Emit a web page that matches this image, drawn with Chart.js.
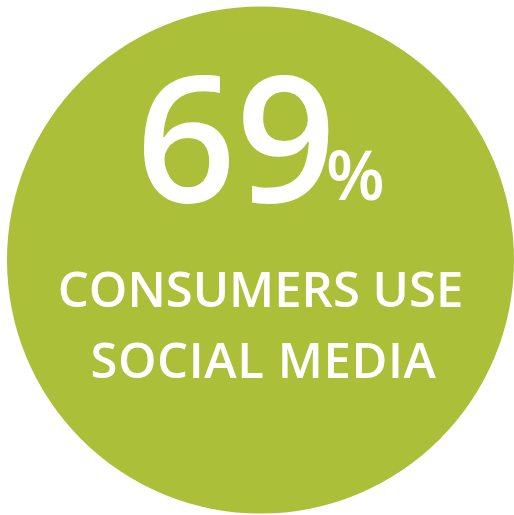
<!DOCTYPE html>
<html>
<head>
<meta charset="utf-8">
<script src="https://cdn.jsdelivr.net/npm/chart.js@4"></script>
<style>
  html, body { margin: 0; padding: 0; background: #fff; }
  #wrap { width: 514px; height: 515px; }
</style>
</head>
<body>
<div id="wrap"><canvas id="stat-chart"></canvas></div>
<script>
const labels = ["Consumers use social media"];
const shareValues = [100];
const bigNumber = "69";
const unitText = "%";
const captionLines = ["CONSUMERS USE", "SOCIAL MEDIA"];

const circleColor = "#abbf39";

const statText = {
    id: "statText",
    afterDraw(chart) {
        const ctx = chart.ctx;
        const arc = chart.getDatasetMeta(0).data[0];
        const cx = arc.x;
        ctx.save();
        ctx.fillStyle = "#ffffff";
        ctx.textBaseline = "alphabetic";

        ctx.font = "600 175px 'Open Sans'";
        const numW = ctx.measureText(bigNumber).width;
        const startX = 136;
        ctx.textAlign = "left";
        ctx.fillText(bigNumber, startX, 202);
        ctx.font = "600 68px 'Open Sans'";
        ctx.fillText(unitText, startX + numW - 10, 200);

        ctx.textAlign = "center";
        ctx.font = "600 49px 'Open Sans'";
        ctx.fillText(captionLines[0], cx, 307);
        ctx.save();
        ctx.letterSpacing = "0.6px";
        ctx.fillText(captionLines[1], cx + 3, 378);
        ctx.restore();
        ctx.restore();
    }
};

const ctx = document.getElementById("stat-chart").getContext("2d");
new Chart(ctx, {
    type: "pie",
    data: {
        labels: labels,
        datasets: [
            {
                data: shareValues,
                backgroundColor: [circleColor],
                borderWidth: 0
            }
        ]
    },
    options: {
        responsive: true,
        maintainAspectRatio: false,
        animation: false,
        layout: {
            padding: { left: 7, right: 0, top: 5, bottom: 0 }
        },
        plugins: {
            legend: { display: false },
            tooltip: { enabled: false }
        }
    },
    plugins: [statText]
});
</script>
</body>
</html>
